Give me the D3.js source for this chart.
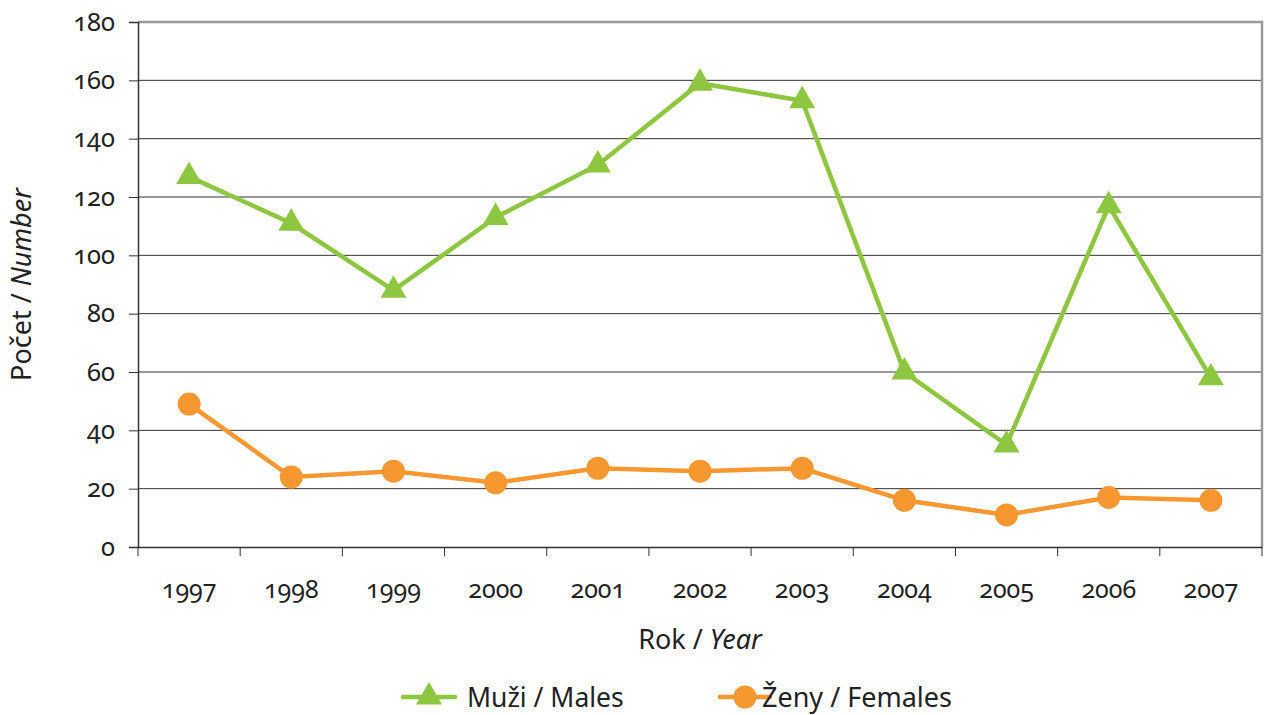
<!DOCTYPE html>
<html><head><meta charset="utf-8">
<script src="https://cdn.jsdelivr.net/npm/d3@7"></script>
<style>
body{margin:0;background:#fff;}
svg text{font-family:"Noto Sans",sans-serif;fill:#222;font-feature-settings:"onum" 1;font-variant-numeric:oldstyle-nums;}
</style></head>
<body><svg id="c" width="1265" height="715"></svg>
<script>
const years = ["1997","1998","1999","2000","2001","2002","2003","2004","2005","2006","2007"];
const males = [127,111,88,113,131,159,153,60,35,117,58];
const females = [49,24,26,22,27,26,27,16,11,17,16];
const yTicks = [0,20,40,60,80,100,120,140,160,180];

const svg = d3.select("#c");
const L=138,R=1262,T=22,B=547;
const x = d3.scaleBand().domain(years).range([L,R]);
const y = d3.scaleLinear().domain([0,180]).range([B,T]);
const green="#8dc63f", orange="#f7972f";

// gridlines
svg.append("g").selectAll("line").data(yTicks.filter(d=>d>0&&d<180)).join("line")
 .attr("x1",L).attr("x2",R).attr("y1",d=>y(d)).attr("y2",d=>y(d))
 .attr("stroke","#333").attr("stroke-width",1);
// top and right border
svg.append("path").attr("d",`M${L},${y(180)}H${R}V${B}`).attr("fill","none").attr("stroke","#999").attr("stroke-width",2.5);

// y axis
const ya = svg.append("g").attr("transform",`translate(${L},0)`)
 .call(d3.axisLeft(y).tickValues(yTicks).tickSize(9).tickPadding(14).tickFormat(d3.format("d")));
ya.select(".domain").attr("stroke","#333").attr("stroke-width",1.5);
ya.selectAll(".tick line").attr("stroke","#333");
ya.selectAll("text").attr("font-size",25.5).style("fill","#222");

// x axis
const xa = svg.append("g").attr("transform",`translate(0,${B})`)
 .call(d3.axisBottom(x).tickSize(0).tickPadding(33));
xa.select(".domain").attr("stroke","#333").attr("stroke-width",1.5);
xa.selectAll("text").attr("font-size",25).style("fill","#222");
svg.append("g").selectAll("line").data(years.concat(["end"])).join("line")
 .attr("x1",(d,i)=>L+i*x.bandwidth()).attr("x2",(d,i)=>L+i*x.bandwidth())
 .attr("y1",B).attr("y2",B+9).attr("stroke","#333").attr("stroke-width",1);

// titles
const t1 = svg.append("text").attr("x",(L+R)/2).attr("y",649).attr("text-anchor","middle").attr("font-size",27);
t1.append("tspan").text("Rok / ");
t1.append("tspan").attr("font-style","italic").text("Year");
const t2 = svg.append("text").attr("transform",`translate(31,${(T+B)/2}) rotate(-90)`).attr("text-anchor","middle").attr("font-size",27);
t2.append("tspan").text("Počet / ");
t2.append("tspan").attr("font-style","italic").text("Number");

const cx = d=>x(d)+x.bandwidth()/2;
const line = d3.line().x((d,i)=>cx(years[i])).y(d=>y(d));
const tri = d3.symbol().type(d3.symbolTriangle).size(290);

svg.append("path").datum(males).attr("d",line).attr("fill","none").attr("stroke",green).attr("stroke-width",4.5);
svg.append("g").selectAll("path").data(males).join("path")
 .attr("d",tri).attr("transform",(d,i)=>`translate(${cx(years[i])},${y(d)})`).attr("fill",green);

svg.append("path").datum(females).attr("d",line).attr("fill","none").attr("stroke",orange).attr("stroke-width",4.5);
svg.append("g").selectAll("circle").data(females).join("circle")
 .attr("cx",(d,i)=>cx(years[i])).attr("cy",d=>y(d)).attr("r",11.5).attr("fill",orange);

// legend
const lg = svg.append("g");
lg.append("line").attr("x1",403).attr("x2",455).attr("y1",697).attr("y2",697).attr("stroke",green).attr("stroke-width",4.5).attr("stroke-linecap","round");
lg.append("path").attr("d",tri).attr("transform","translate(429,697)").attr("fill",green);
lg.append("text").attr("x",467).attr("y",707).attr("font-size",26.5).text("Muži / Males");
lg.append("line").attr("x1",720).attr("x2",770).attr("y1",697).attr("y2",697).attr("stroke",orange).attr("stroke-width",4.5).attr("stroke-linecap","round");
lg.append("circle").attr("cx",745).attr("cy",697).attr("r",11.5).attr("fill",orange);
lg.append("text").attr("x",762).attr("y",707).attr("font-size",27).text("Ženy / Females");
</script></body></html>
